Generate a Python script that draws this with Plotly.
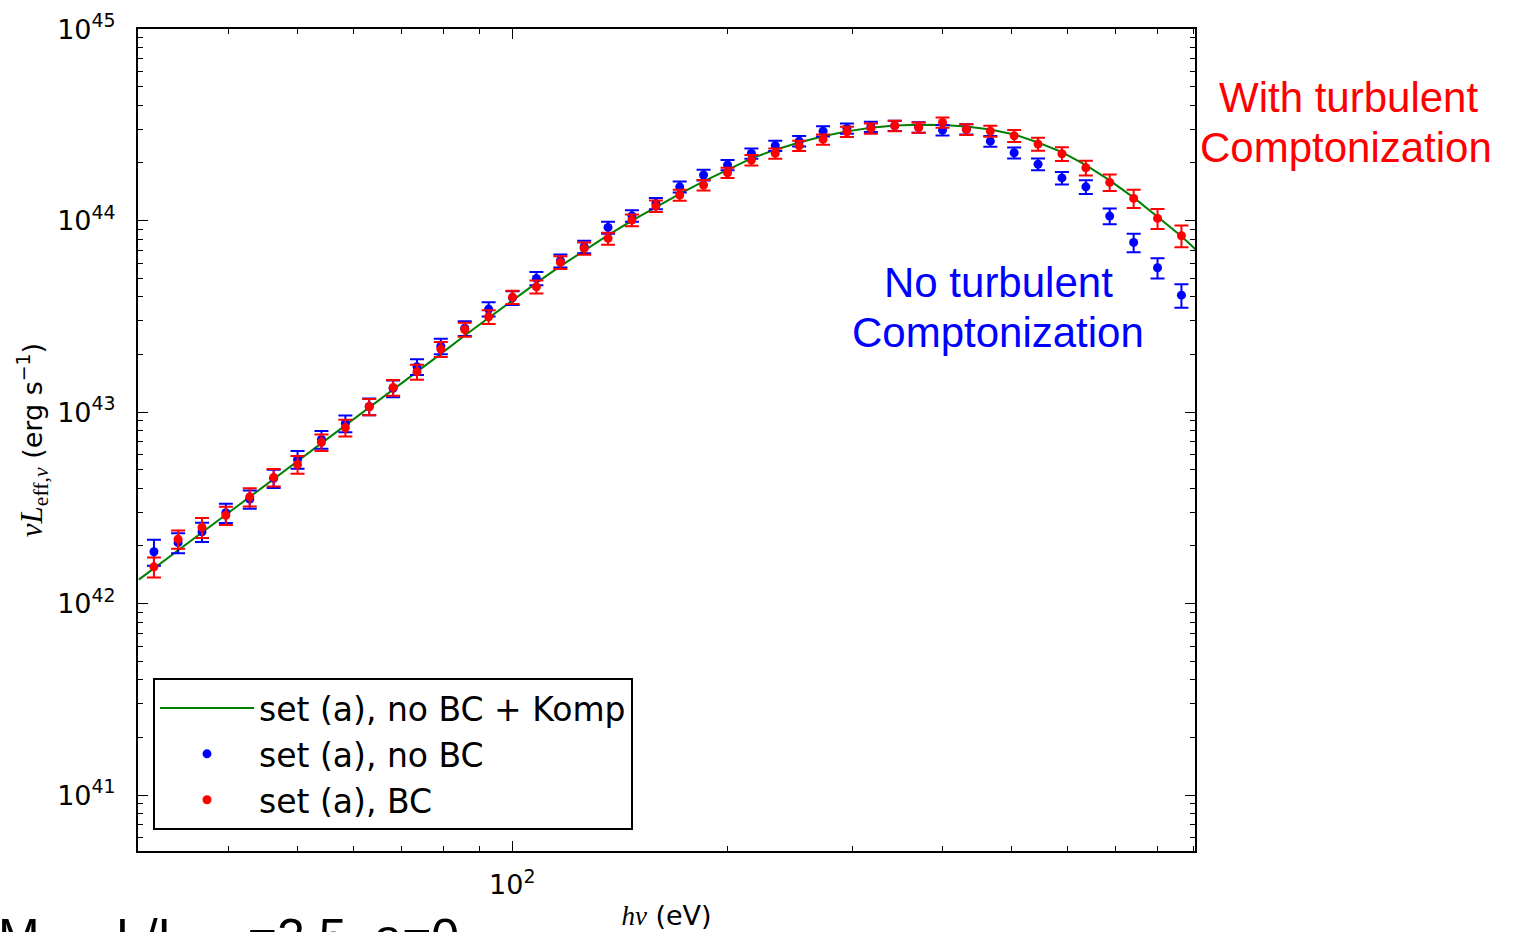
import plotly.graph_objects as go

# ---------------- data ----------------
hv = [31.5, 34.05, 36.78, 39.72, 42.9, 46.34, 50.05, 54.06, 58.39, 63.06,
      68.11, 73.56, 79.43, 85.8, 92.67, 100.1, 108.1, 116.8, 126.1, 136.2,
      147.1, 158.9, 171.6, 185.3, 200.2, 216.2, 233.5, 252.2, 272.4, 294.2,
      317.8, 343.2, 370.7, 400.4, 432.4, 467.1, 504.4, 544.8, 588.4, 635.6,
      686.4, 741.5, 800.8, 865.0]

lum_noBC = [1.865e42, 2.08e42, 2.37e42, 2.98e42, 3.51e42, 4.51e42, 5.66e42, 7.20e42, 8.73e42, 1.07e43,
            1.33e43, 1.725e43, 2.21e43, 2.74e43, 3.45e43, 3.95e43, 4.99e43, 6.17e43, 7.30e43, 9.21e43,
            1.059e44, 1.23e44, 1.50e44, 1.73e44, 1.95e44, 2.24e44, 2.46e44, 2.60e44, 2.93e44, 3.03e44,
            3.09e44, 3.13e44, 3.07e44, 2.97e44, 3.00e44, 2.60e44, 2.26e44, 1.97e44, 1.67e44, 1.50e44,
            1.056e44, 7.69e43, 5.67e43, 4.08e43]

lum_BC = [1.556e42, 2.17e42, 2.50e42, 2.89e42, 3.61e42, 4.56e42, 5.33e42, 6.95e42, 8.28e42, 1.066e43,
          1.345e43, 1.623e43, 2.133e43, 2.70e43, 3.146e43, 3.986e43, 4.51e43, 6.05e43, 7.16e43, 8.07e43,
          1.006e44, 1.191e44, 1.359e44, 1.532e44, 1.777e44, 2.07e44, 2.243e44, 2.459e44, 2.655e44, 2.909e44,
          3.03e44, 3.126e44, 3.067e44, 3.256e44, 2.994e44, 2.934e44, 2.772e44, 2.509e44, 2.233e44, 1.887e44,
          1.583e44, 1.306e44, 1.027e44, 8.33e43]

# relative (fractional) error bars
errfrac_noBC = [0.155, 0.12, 0.115, 0.115, 0.11, 0.11, 0.105, 0.105, 0.10, 0.10,
                0.10, 0.095, 0.092, 0.088, 0.085, 0.082, 0.08, 0.078, 0.075, 0.072,
                0.07, 0.068, 0.066, 0.064, 0.062, 0.062, 0.062, 0.062, 0.062, 0.062,
                0.062, 0.062, 0.062, 0.062, 0.062, 0.064, 0.066, 0.07, 0.075, 0.082,
                0.095, 0.11, 0.12, 0.14]
errfrac_BC = [0.12, 0.11, 0.12, 0.11, 0.11, 0.105, 0.105, 0.10, 0.10, 0.097,
              0.095, 0.09, 0.09, 0.085, 0.083, 0.08, 0.078, 0.076, 0.074, 0.072,
              0.07, 0.068, 0.066, 0.064, 0.062, 0.062, 0.062, 0.062, 0.062, 0.062,
              0.062, 0.062, 0.062, 0.062, 0.064, 0.066, 0.072, 0.078, 0.083, 0.088,
              0.098, 0.11, 0.12, 0.13]

model_hv = [30.0] + hv + [905.0]
model_lum = [1.334e42, 1.531e42, 1.897e42, 2.350e42, 2.911e42, 3.606e42, 4.467e42, 5.534e42, 6.855e42, 8.492e42,
             1.052e43, 1.303e43, 1.622e43, 2.014e43, 2.512e43, 3.111e43, 3.846e43, 4.732e43, 5.781e43, 6.998e43,
             8.395e43, 1.000e44, 1.180e44, 1.380e44, 1.603e44, 1.849e44, 2.113e44, 2.344e44, 2.559e44, 2.754e44,
             2.924e44, 3.055e44, 3.133e44, 3.162e44, 3.155e44, 3.097e44, 2.992e44, 2.818e44, 2.559e44, 2.280e44,
             1.950e44, 1.622e44, 1.318e44, 1.047e44, 8.279e43, 7.079e43]

names = ["set (a), no BC + Komp", "set (a), no BC", "set (a), BC"]

x_major = [100]
x_major_text = ["10<sup>2</sup>"]
x_minor = [30, 40, 50, 60, 70, 80, 90, 200, 300, 400, 500, 600, 700, 800, 900]
y_major = [1e41, 1e42, 1e43, 1e44, 1e45]
y_major_text = ["10<sup>41</sup>", "10<sup>42</sup>", "10<sup>43</sup>", "10<sup>44</sup>", "10<sup>45</sup>"]
y_minor = [m * 10.0 ** e for e in range(40, 45) for m in range(2, 10) if m * 10.0 ** e > 5.1e40]

# ---------------- figure ----------------
fig = go.Figure()

fig.add_trace(go.Scatter(
    x=model_hv, y=model_lum, mode="lines", name=names[0], legendgroup="g1",
    line=dict(color="#008000", width=2)))

fig.add_trace(go.Scatter(
    x=hv, y=lum_noBC, mode="markers", name=names[1], legendgroup="g2",
    marker=dict(color="#0000ff", size=9, line=dict(width=0)),
    error_y=dict(type="data", array=[v * f for v, f in zip(lum_noBC, errfrac_noBC)],
                 color="#0000ff", thickness=2, width=7)))

fig.add_trace(go.Scatter(
    x=hv, y=lum_BC, mode="markers", name=names[2], legendgroup="g3",
    marker=dict(color="#ff0000", size=9, line=dict(width=0)),
    error_y=dict(type="data", array=[v * f for v, f in zip(lum_BC, errfrac_BC)],
                 color="#ff0000", thickness=2, width=7)))

axis_common = dict(
    showline=True, linecolor="black", linewidth=2, mirror="allticks",
    ticks="inside", ticklen=10, tickwidth=1.2, tickcolor="black",
    showgrid=False, zeroline=False, automargin=False,
    tickfont=dict(family="DejaVu Sans", size=27, color="black"),
)

fig.update_xaxes(
    type="log", range=[1.476, 2.956],
    tickmode="array", tickvals=x_major, ticktext=x_major_text,
    minor=dict(ticks="inside", ticklen=5, tickwidth=1.2, tickcolor="black",
               tickmode="array", tickvals=x_minor, showgrid=False),
    ticklabelstandoff=9,
    title=dict(text='<span style="font-family:Liberation Serif"><i>hν</i></span> (eV)',
               font=dict(family="DejaVu Sans", size=27, color="black"), standoff=7),
    **axis_common)

fig.update_yaxes(
    type="log", range=[40.708, 45.0005],
    tickmode="array", tickvals=y_major, ticktext=y_major_text,
    minor=dict(ticks="inside", ticklen=5, tickwidth=1.2, tickcolor="black",
               tickmode="array", tickvals=y_minor, showgrid=False),
    ticklabelstandoff=15,
    title=dict(text='<span style="font-family:Liberation Serif;font-size:31px"><i>νL</i><sub>eff,<i>ν</i></sub></span> (erg s<sup>−1</sup>)',
               font=dict(family="DejaVu Sans", size=27, color="black"), standoff=7),
    **axis_common)

def px_x(p):
    return (p - 138) / 1057.0

def px_y(p):
    return (851 - p) / 822.0

annots = [
    dict(text="With turbulent", x=px_x(1348), y=px_y(97), color="#ff0000"),
    dict(text="Comptonization", x=px_x(1346), y=px_y(147), color="#ff0000"),
    dict(text="No turbulent", x=px_x(998), y=px_y(282), color="#0000ff"),
    dict(text="Comptonization", x=px_x(998), y=px_y(332), color="#0000ff"),
]
for a in annots:
    fig.add_annotation(text=a["text"], x=a["x"], y=a["y"], xref="paper", yref="paper",
                       xanchor="center", yanchor="middle", showarrow=False,
                       font=dict(family="Liberation Sans", size=42, color=a["color"]))

fig.add_annotation(text="M<sub>BH</sub>, L/L<sub>Edd</sub>=2.5, a=0",
                   x=px_x(-4), y=px_y(907), xref="paper", yref="paper",
                   xanchor="left", yanchor="top", showarrow=False,
                   font=dict(family="Liberation Sans", size=50, color="black"))

fig.update_layout(
    width=1513, height=932,
    margin=dict(l=138, r=318, t=29, b=81, autoexpand=False),
    paper_bgcolor="white", plot_bgcolor="white",
    showlegend=True,
    legend=dict(x=px_x(153), y=px_y(678), xanchor="left", yanchor="top",
                bordercolor="black", borderwidth=2, bgcolor="white",
                font=dict(family="DejaVu Sans", size=33, color="black"),
                itemwidth=94, tracegroupgap=5, traceorder="normal"),
)

fig.write_html("out.html")
